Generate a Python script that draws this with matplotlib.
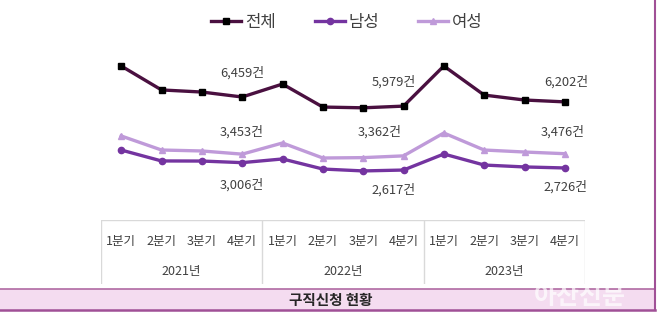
import matplotlib
matplotlib.use("Agg")
import matplotlib.pyplot as plt
from matplotlib.lines import Line2D
from matplotlib.patches import Rectangle

plt.rcParams['font.family'] = ['Noto Sans CJK KR', 'DejaVu Sans']

quarters = ["1분기", "2분기", "3분기", "4분기"] * 3
years = ["2021년", "2022년", "2023년"]
total = [8090, 6830, 6720, 6459, 7140, 5930, 5890, 5979, 8090, 6560, 6300, 6202]
men = [3670, 3095, 3090, 3006, 3200, 2670, 2570, 2617, 3460, 2880, 2780, 2726]
women = [4410, 3670, 3620, 3453, 4040, 3250, 3270, 3362, 4565, 3670, 3565, 3476]
series_names = ["전체", "남성", "여성"]
title = "구직신청 현황"

W, H = 660, 322
fig = plt.figure(figsize=(6.6, 3.22), dpi=100)

def fx(px):
    return px / W

def fy(py):
    return 1 - py / H

# main plot axes: pixel x 101..585, y 40..215
ax = fig.add_axes([fx(101), fy(215), fx(585) - fx(101), fy(40) - fy(215)])
ax.set_xlim(-0.5, 11.5)
ax.set_ylim(252, 9457)
ax.axis('off')

x = list(range(12))
c_tot, c_men, c_wom = "#4a1040", "#7434a0", "#bf9ad9"
ax.plot(x, women, color=c_wom, lw=2.4, marker='^', ms=4.5, mfc=c_wom, mec=c_wom, zorder=2)
ax.plot(x, men, color=c_men, lw=2.4, marker='o', ms=4.5, mfc=c_men, mec=c_men, zorder=3)
ax.plot(x, total, color=c_tot, lw=2.4, marker='s', ms=5, mfc='black', mec='black', zorder=4)

tc = "#404040"
fs = 9.3
def lab(i, vals, dy, dx=0):
    ax.annotate(f"{vals[i]:,}건", (x[i], vals[i]), xytext=(dx, dy), textcoords='offset pixels',
                ha='center', va='center', fontsize=fs, color=tc)

lab(3, total, 24)
lab(3, women, 22)
lab(3, men, -22)
lab(7, total, 24, -10)
lab(7, women, 24, -24)
lab(7, men, -20, -10)
lab(11, total, 20, 1)
lab(11, women, 22, -2)
lab(11, men, -19, 1)

# legend
handles = [
    Line2D([], [], color=c_tot, lw=2.4, marker='s', ms=5, mfc='black', mec='black'),
    Line2D([], [], color=c_men, lw=2.4, marker='o', ms=4.5, mfc=c_men, mec=c_men),
    Line2D([], [], color=c_wom, lw=2.4, marker='^', ms=4.5, mfc=c_wom, mec=c_wom),
]
leg = fig.legend(handles, series_names, loc='center', bbox_to_anchor=(fx(347), fy(22)), ncol=3,
                 frameon=False, fontsize=12, handlelength=1.8, handletextpad=0.25,
                 columnspacing=2.3, labelcolor=tc)

# category table axes: pixel x 101..585, y 220..283
tab = fig.add_axes([fx(101), fy(284), fx(585) - fx(101), fy(220) - fy(284)])
tab.set_xlim(-0.5, 11.5)
tab.set_ylim(0, 1)
tab.axis('off')
gc = "#d9d9d9"
tab.plot([-0.5, 11.5], [1, 1], color=gc, lw=1)
for xv in [-0.5, 3.5, 7.5, 11.5]:
    tab.plot([xv, xv], [0, 1], color=gc, lw=1)
for i, q in enumerate(quarters):
    tab.text(i, 0.66, q, ha='center', va='center', fontsize=9, color=tc)
for j, yl in enumerate(years):
    tab.text(1.5 + 4 * j, 0.2, yl, ha='center', va='center', fontsize=9, color=tc)

# bottom band
fig.patches.append(Rectangle((0, fy(310)), fx(655), fy(289) - fy(310), transform=fig.transFigure,
                             facecolor="#f4dcf0", edgecolor='none', zorder=0))
fig.add_artist(Line2D([0, fx(655)], [fy(289), fy(289)], color="#b06aa3", lw=1.2, transform=fig.transFigure))
fig.add_artist(Line2D([0, fx(655)], [fy(310), fy(310)], color="#a05096", lw=1.8, transform=fig.transFigure))
fig.add_artist(Line2D([fx(655), fx(655)], [fy(310), 1], color="#a05096", lw=1.5, transform=fig.transFigure))
fig.text(fx(331), fy(300), title, ha='center', va='center', fontsize=10.5, fontweight='bold', color="#262626")
fig.text(fx(580), fy(297), "아산신문", ha='center', va='center', fontsize=18, fontweight='bold',
         color='white', alpha=0.7)

fig.savefig("out.png", dpi=100, facecolor='white')
